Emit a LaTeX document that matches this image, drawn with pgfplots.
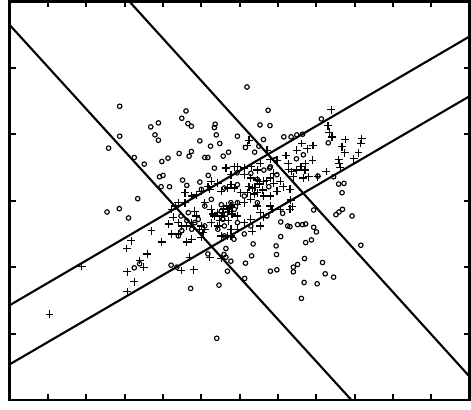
\documentclass[border=0pt]{standalone}
\usepackage{pgfplots}
\pgfplotsset{compat=1.18}

\begin{document}
\begin{tikzpicture}
\begin{axis}[scale only axis,width=11.5cm,height=9.97cm,
  xmin=0,xmax=12,ymin=0,ymax=6,
  xtick={1,...,11},ytick={1,...,5},
  xticklabels={},yticklabels={},
  tick align=inside,major tick length=0.15cm,
  tick style={line width=1.4pt,black},
  axis line style={line width=1.8pt},
  clip=true]
% class 1: circles
\addplot[only marks,mark=o,mark size=1.6pt,mark options={line width=0.8pt}] coordinates {
(6.19,4.71)(2.87,4.42)(4.60,4.35)(4.49,4.24)(6.74,4.36)(3.68,4.11)(3.88,4.17)(4.65,4.16)(4.74,4.12)(5.36,4.15)
(5.34,4.10)(6.53,4.14)(6.79,4.13)(2.87,3.97)(3.79,3.99)(3.88,3.91)(5.39,3.99)(5.94,3.97)(4.96,3.90)(5.24,3.82)
(5.48,3.86)(5.71,3.73)(6.15,3.80)(6.39,3.73)(6.62,3.92)(2.58,3.79)(3.25,3.65)(3.51,3.55)(4.42,3.71)(4.74,3.74)
(4.68,3.67)(3.97,3.59)(4.13,3.64)(5.09,3.65)(5.17,3.65)(5.57,3.67)(5.34,3.49)(7.15,3.96)(7.34,3.96)(7.49,3.99)
(7.64,4.00)(8.13,4.23)(8.31,3.87)(3.91,3.36)(4.00,3.38)(3.95,3.21)(4.17,3.21)(4.51,3.31)(4.96,3.28)(5.18,3.38)
(5.93,3.42)(3.34,3.03)(2.86,2.88)(2.54,2.83)(3.10,2.74)(8.58,3.25)(8.72,3.26)(8.67,3.12)(8.68,2.87)(8.59,2.83)
(8.51,2.79)(8.93,2.77)(9.16,2.33)(7.93,2.86)(7.12,2.81)(7.07,2.68)(7.25,2.62)(7.31,2.61)(7.51,2.64)(7.64,2.64)
(7.72,2.65)(7.93,2.60)(8.00,2.53)(7.87,2.41)(7.72,2.37)(7.07,2.46)(6.95,2.32)(6.96,2.19)(6.35,2.35)(6.31,2.17)
(5.85,2.42)(5.64,2.28)(5.59,2.19)(5.77,2.09)(6.15,2.06)(6.80,1.94)(6.97,1.96)(7.40,2.00)(7.40,1.93)(7.51,2.04)
(7.69,2.13)(8.16,2.07)(8.23,1.90)(8.45,1.85)(7.68,1.77)(8.02,1.75)(7.61,1.53)(6.13,1.83)(5.68,1.94)(5.46,1.73)
(4.72,1.68)(5.40,0.93)(4.21,2.03)(4.36,2.00)(3.25,1.99)(3.39,2.05)
(4.62,3.23)(5.00,3.17)(5.09,2.92)(4.66,2.82)(4.47,2.77)(4.62,2.70)(4.83,2.67)(4.49,2.55)(6.12,2.50)(5.64,2.15)
(5.17,2.20)(5.60,3.19)(5.94,3.24)(6.29,3.41)(6.46,3.32)(6.63,3.46)(6.80,3.51)(6.93,3.61)(6.97,3.39)(6.76,3.21)
(6.46,2.97)(5.94,2.97)(6.12,3.07)(5.52,2.94)(5.26,3.02)(4.92,2.72)(5.09,2.62)(5.43,2.57)(5.60,2.62)(5.94,2.67)
(6.29,2.62)(6.71,2.77)(5.60,2.47)(4.75,2.57)(4.40,2.47)(5.86,2.87)(5.77,2.97)(5.52,2.84)(5.64,2.80)(5.56,2.72)
(7.48,3.63)(7.66,3.69)(6.50,3.82)(6.93,3.62)(6.78,3.49)(8.04,3.37)(8.45,3.36)
};
% class 2: pluses
\addplot[only marks,mark=+,mark size=2.8pt,mark options={line width=0.9pt}] coordinates {
(8.39,4.37)(8.30,4.13)(8.34,4.03)(8.41,3.96)(8.75,3.92)(9.18,3.93)(9.16,3.86)(8.67,3.81)(8.74,3.72)(9.10,3.72)
(8.97,3.63)(8.58,3.62)(8.60,3.56)(8.62,3.50)(8.26,3.44)(8.03,3.36)(7.91,3.83)(7.76,3.78)(7.62,3.86)(7.49,3.76)
(7.21,3.68)(7.90,3.61)(7.71,3.56)(7.60,3.51)(7.49,3.46)(7.40,3.36)(7.27,3.56)(7.28,3.47)(7.36,3.44)(7.66,3.34)
(7.70,3.46)(7.80,3.36)(7.31,3.17)(7.33,3.01)(7.37,2.91)(6.80,3.62)(6.97,3.61)(6.89,3.41)(6.71,3.76)(6.54,3.56)
(6.24,3.91)(6.20,3.83)(6.30,3.51)(6.46,3.46)(6.12,3.49)(5.94,3.51)(5.86,3.51)(5.64,3.49)(5.77,3.39)(6.12,3.39)
(6.29,3.34)(6.46,3.31)(6.63,3.29)(6.80,3.34)(6.89,3.26)(7.06,3.29)(7.14,3.21)(6.97,3.14)(6.80,3.07)(6.63,3.07)
(6.46,3.12)(6.33,3.19)(6.24,3.21)(6.20,3.12)(6.03,3.12)(5.86,3.19)(5.69,3.19)(5.52,3.14)(5.43,3.26)(5.26,3.29)
(5.17,3.21)(5.00,3.14)(4.87,3.09)(4.75,3.07)(4.57,3.12)(4.57,2.97)(4.40,2.97)(4.32,2.92)(4.23,2.87)(4.27,2.75)
(4.15,2.65)(4.40,2.67)(4.49,2.62)(4.62,2.62)(4.75,2.67)(4.87,2.77)(5.09,2.97)(5.26,2.87)(5.34,2.77)(5.43,2.82)
(5.52,2.77)(5.55,2.82)(5.69,2.87)(5.77,2.92)(5.94,2.94)(6.12,2.97)(6.29,3.02)(6.46,2.92)(6.54,2.82)(6.63,2.75)
(6.80,2.92)(6.84,2.87)(7.06,2.87)(7.31,2.87)(6.29,2.72)(6.12,2.67)(5.94,2.77)(5.77,2.57)(5.69,2.47)(5.52,2.47)
(5.43,2.62)(5.26,2.67)(5.09,2.57)(5.04,2.52)(5.00,2.45)(4.75,2.42)(4.62,2.38)(4.40,2.50)(4.23,2.50)(3.97,2.38)
(3.70,2.55)(3.59,2.20)(3.39,2.10)(3.50,2.00)(3.17,2.40)(3.05,2.28)(3.07,1.93)(3.25,1.78)(3.07,1.63)(1.88,2.01)
(1.04,1.29)(5.22,2.15)(5.52,2.13)(5.77,2.47)(5.94,2.57)(6.33,2.54)(6.54,2.62)(4.70,2.15)(4.80,1.96)(4.48,1.95)
(5.00,2.62)(4.96,2.57)(4.83,2.84)(5.30,2.80)(5.77,3.24)(5.22,3.17)
(5.58,2.88)(5.66,2.92)(5.72,2.84)(5.60,2.76)(5.80,2.80)(6.40,3.20)(6.52,3.25)(6.60,3.16)(6.70,3.30)(6.38,3.10)
(5.70,2.70)(5.48,2.70)
};
% discriminant lines
\addplot[black,line width=1.5pt] coordinates {(0,5.644)(8.916,0)};
\addplot[black,line width=1.5pt] coordinates {(3.118,6)(12,0.351)};
\addplot[black,line width=1.5pt] coordinates {(0,1.427)(12,5.472)};
\addplot[black,line width=1.5pt] coordinates {(0,0.538)(12,4.573)};
\end{axis}
\end{tikzpicture}
\end{document}
